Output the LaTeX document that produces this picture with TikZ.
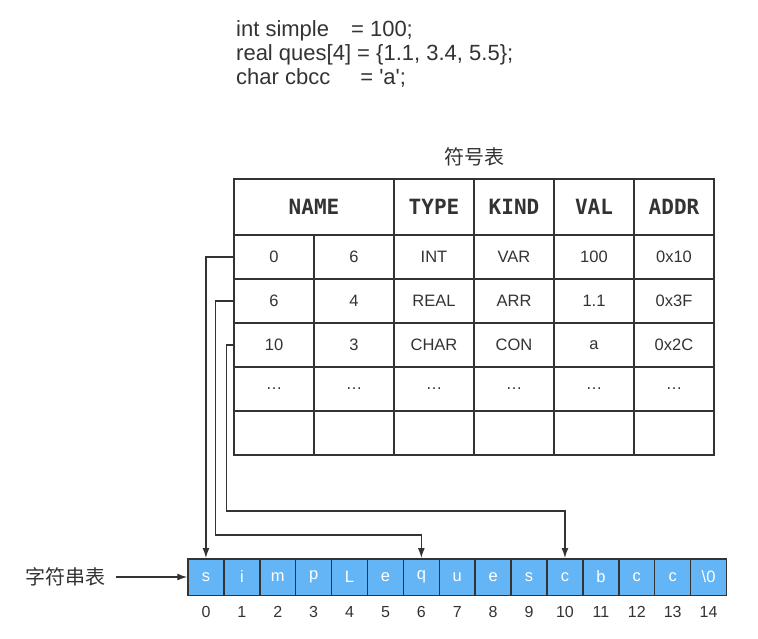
\documentclass[tikz,border=0pt]{standalone}
\usepackage{fontspec}
\setmainfont{Liberation Sans}
\newfontfamily\cjk{Noto Sans CJK SC}
\newfontfamily\headfont{DejaVu Sans Mono}
\usetikzlibrary{arrows.meta}
\definecolor{ink}{HTML}{333333}
\definecolor{cellblue}{HTML}{64B5F6}
\begin{document}
\begin{tikzpicture}[x=1pt, y=-1pt, text=ink,
    cell/.style={draw=ink, line width=1.5pt, inner sep=0pt, minimum width=80pt, minimum height=44pt, font=\fontsize{16.5}{18}\selectfont},
    head/.style={cell, minimum height=56pt, font=\headfont\bfseries\fontsize{21}{24}\selectfont},
    charbox/.style={draw=ink, line width=1.5pt, fill=cellblue, text=white, inner sep=0pt, minimum width=35.9pt, minimum height=36.5pt, font=\fontsize{16.5}{18}\selectfont},
    code/.style={anchor=base west, inner sep=0pt, font=\fontsize{22}{26}\selectfont},
    title/.style={font=\cjk\fontsize{20}{24}\selectfont},
    link/.style={draw=ink, line width=1.3pt, -{Latex[length=10pt,width=7pt]}}]
        \useasboundingbox (0,0) rectangle (758,638);
        \node[code] (code1) at (236,36) {int simple\hspace{22pt}= 100;};
        \node[code] (code2) at (236,60) {real ques[4] = \{1.1, 3.4, 5.5\};};
        \node[code] (code3) at (236,84) {char cbcc\hspace{30pt}= \textquotesingle a\textquotesingle;};
        \node[title] (symtab) at (474,157) {符号表};
        \node[head, minimum width=160pt] (h-NAME) at (314,207) {NAME};
        \foreach \name/\x in {TYPE/434, KIND/514, VAL/594, ADDR/674}
            \node[head] (h-\name) at (\x,207) {\name};
        \foreach \a/\b/\c/\d/\e/\f [count=\i from 0] in
            {0/6/INT/VAR/100/0x10, 6/4/REAL/ARR/1.1/0x3F, 10/3/CHAR/CON/a/0x2C,
             \dots/\dots/\dots/\dots/\dots/\dots, {}/{}/{}/{}/{}/{}}{
                \foreach \v [count=\j] in {\a,\b,\c,\d,\e,\f}
                    \node[cell] (r\i-\j) at ({194+80*\j}, {257+44*\i}) {\v};
        }
        \foreach \ch [count=\k from 0] in {s,i,m,p,L,e,q,u,e,s,c,b,c,c,{\textbackslash0}}{
            \node[charbox] (s\k) at ({205.95+35.9*\k}, 577) {\ch};
            \node[font=\fontsize{16}{18}\selectfont] (n\k) at ({205.95+35.9*\k}, 612) {\k};
        }
        \node[title] (strtab) at (65,577) {字符串表};
        \draw[link, shorten <=7pt] (strtab.east) -- (s0.west);
        \draw[link] (r0-1.west) -| (s0.north);
        \draw[link] (r1-1.west) -- ++(-18,0) |- ([yshift=23pt]s6.north) -- (s6.north);
        \draw[link] (r2-1.west) -- ++(-7,0) |- ([yshift=47pt]s10.north) -- (s10.north);
\end{tikzpicture}
\end{document}
